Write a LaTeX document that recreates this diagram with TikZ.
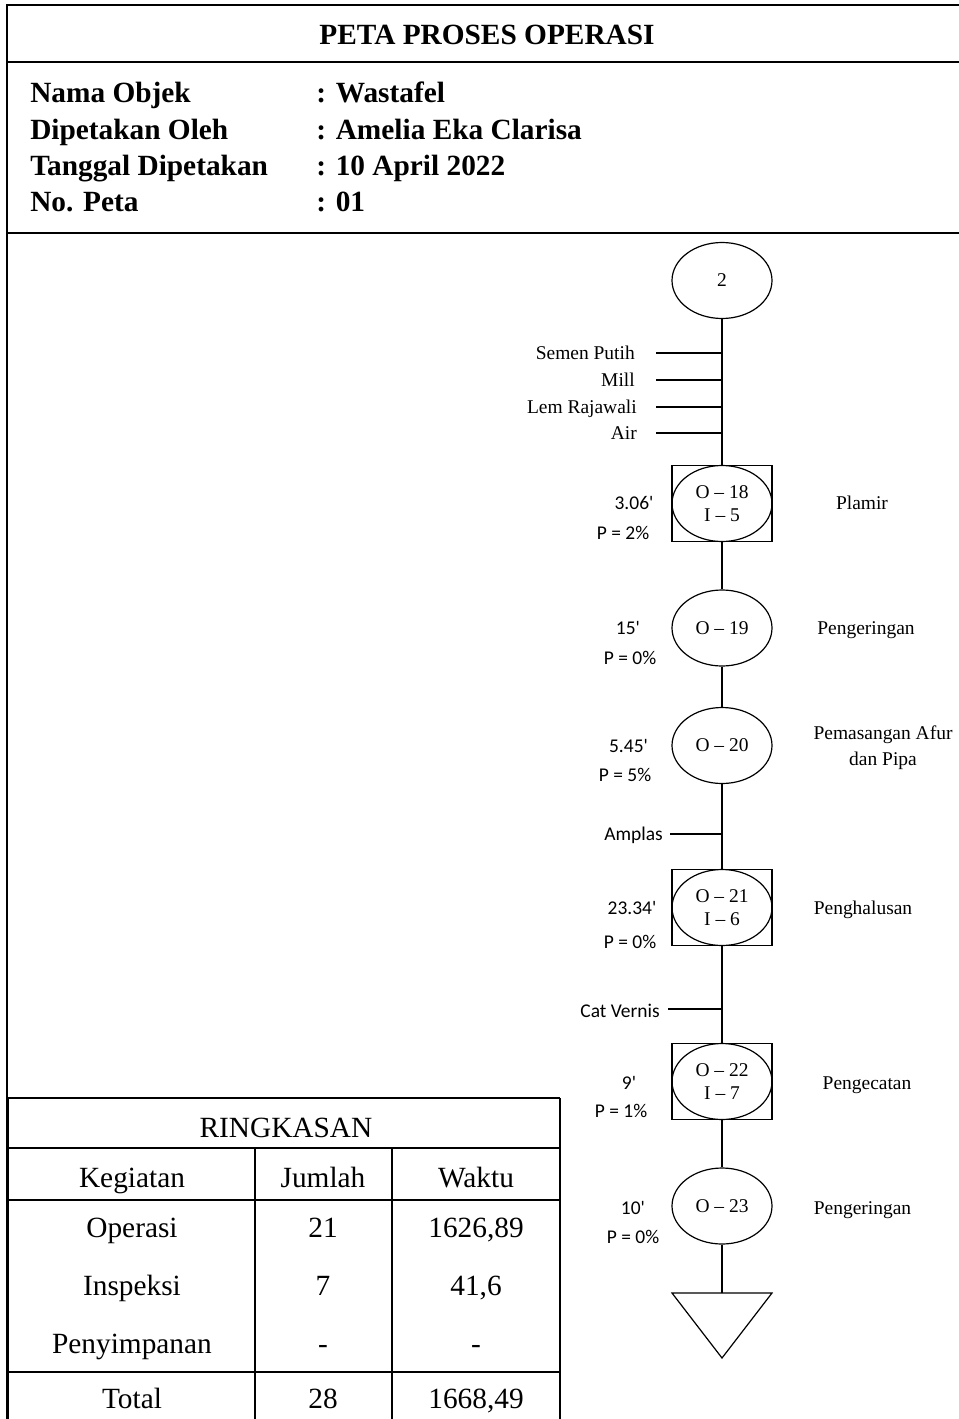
\documentclass[tikz,border=0pt]{standalone}
\usepackage{fontspec}
\setmainfont{Liberation Serif}
\newfontfamily\calibfont[Ligatures=TeXOff]{Carlito}
\usetikzlibrary{shapes.geometric}

\newcommand{\chartfont}{\fontsize{14.6}{17.5}\selectfont}
\newcommand{\numfont}{\calibfont\fontsize{14.6}{17.5}\selectfont}
\newcommand{\hdrfont}{\bfseries\fontsize{22}{26}\selectfont}
\newcommand{\cellfont}{\fontsize{22}{26}\selectfont}

\begin{document}
\begin{tikzpicture}[x=0.75pt,y=-0.75pt,
  frame/.style={line width=2pt},
  tab/.style={line width=1.6pt},
  flow/.style={line width=0.9pt},
  opel/.style={draw,ellipse,line width=0.9pt,minimum width=75pt,minimum height=57pt,
               inner sep=0pt,align=center,font=\chartfont},
  opbox/.style={draw,rectangle,line width=0.9pt,minimum width=75pt,minimum height=57.5pt,inner sep=0pt},
  lbl/.style={font=\chartfont,inner sep=0pt,anchor=base},
  num/.style={font=\numfont,inner sep=0pt,anchor=base},
  hd/.style={font=\hdrfont,anchor=base west,inner sep=0pt},
  cell/.style={font=\cellfont,inner sep=0pt,anchor=base}]

\fill[white] (0,0) rectangle (959,1419);
\useasboundingbox (0,0) rectangle (959,1419);

% ---- header frame ----
\draw[frame] (7,1421) -- (7,5) -- (961,5);
\draw[frame] (7,62) -- (961,62);
\draw[frame] (7,233) -- (961,233);

\node[font=\hdrfont,anchor=base,inner sep=0pt] (title) at (487,45) {PETA PROSES OPERASI};

\node[hd] (k1) at (30,103) {Nama Objek};
\node[hd] (k2) at (30,140) {Dipetakan Oleh};
\node[hd] (k3) at (30,176) {Tanggal Dipetakan};
\node[hd] (k4) at (30,212) {No. Peta};
\node[hd] (v1) at (316,103) {: Wastafel};
\node[hd] (v2) at (316,140) {: Amelia Eka Clarisa};
\node[hd] (v3) at (316,176) {: 10 April 2022};
\node[hd] (v4) at (316,212) {: 01};

% ---- process chart ----
\node[opel] (n2) at (722,280.5) {2};

% materials entering before O-18
\node[lbl,anchor=base east] (mat1) at (635,359) {Semen Putih};
\node[lbl,anchor=base east] (mat2) at (635,386) {Mill};
\node[lbl,anchor=base east] (mat3) at (637,413) {Lem Rajawali};
\node[lbl,anchor=base east] (mat4) at (637,439) {Air};
\coordinate (j1) at (656,353);
\coordinate (j2) at (656,380);
\coordinate (j3) at (656,407);
\coordinate (j4) at (656,433);

\node[opbox] (b18) at (722,503.5) {};
\node[opel] (o18) at (722,503.5) {O -- 18\\I -- 5};
\node[num] (t18) at (634,509.5) {3.06'};
\node[num] (p18) at (623,539.5) {P = 2\%};
\node[lbl] (d18) at (862,509.5) {Plamir};

\node[opel] (o19) at (722,628) {O -- 19};
\node[num] (t19) at (628,634.5) {15'};
\node[num] (p19) at (630,664.5) {P = 0\%};
\node[lbl] (d19) at (866,634.5) {Pengeringan};

\node[opel] (o20) at (722,745.5) {O -- 20};
\node[num] (t20) at (628.5,752) {5.45'};
\node[num] (p20) at (625,781.5) {P = 5\%};
\node[lbl] (d20a) at (883,739.5) {Pemasangan Afur};
\node[lbl] (d20b) at (883,765) {dan Pipa};

\node[num,anchor=base east] (mat5) at (663,840.5) {Amplas};
\coordinate (j5) at (670,834);

\node[opbox] (b21) at (722,907.5) {};
\node[opel] (o21) at (722,907.5) {O -- 21\\I -- 6};
\node[num] (t21) at (632,914.5) {23.34'};
\node[num] (p21) at (630,948.5) {P = 0\%};
\node[lbl] (d21) at (863,914.5) {Penghalusan};

\node[num,anchor=base east] (mat6) at (660,1017) {Cat Vernis};
\coordinate (j6) at (668,1009);

\node[opbox] (b22) at (722,1081.5) {};
\node[opel] (o22) at (722,1081.5) {O -- 22\\I -- 7};
\node[num] (t22) at (629,1089.5) {9'};
\node[num] (p22) at (621,1117.5) {P = 1\%};
\node[lbl] (d22) at (867,1089.5) {Pengecatan};

\node[opel] (o23) at (722,1206) {O -- 23};
\node[num] (t23) at (633,1214) {10'};
\node[num] (p23) at (633,1243.5) {P = 0\%};
\node[lbl] (d23) at (862.5,1214) {Pengeringan};

% storage triangle
\coordinate (tl) at (672,1293);
\coordinate (tt) at (722,1293);
\coordinate (tr) at (772,1293);
\coordinate (tb) at (722,1358);
\draw[flow] (tl) -- (tr) -- (tb) -- cycle;

% flow line
\draw[flow] (n2) -- (b18);
\draw[flow] (b18) -- (o19);
\draw[flow] (o19) -- (o20);
\draw[flow] (o20) -- (b21);
\draw[flow] (b21) -- (b22);
\draw[flow] (b22) -- (o23);
\draw[flow] (o23) -- (tt);
\foreach \j in {j1,j2,j3,j4,j5,j6} \draw[flow] (\j) -- (\j -| n2);

% ---- summary table ----
\draw[tab] (8,1098) -- (560,1098);
\draw[tab] (8,1148) -- (560,1148);
\draw[tab] (8,1200) -- (560,1200);
\draw[tab] (8,1372) -- (560,1372);
\draw[tab] (8,1098) -- (8,1421);
\draw[tab] (560,1098) -- (560,1421);
\draw[tab] (255,1148) -- (255,1421);
\draw[tab] (392,1148) -- (392,1421);

\node[cell] (r0) at (286,1137) {RINGKASAN};
\node[cell] (h1) at (132,1187) {Kegiatan};
\node[cell] (h2) at (323,1187) {Jumlah};
\node[cell] (h3) at (476,1187) {Waktu};
\node[cell] (a1) at (132,1237) {Operasi};
\node[cell] (a2) at (323,1237) {21};
\node[cell] (a3) at (476,1237) {1626,89};
\node[cell] (b1) at (132,1295) {Inspeksi};
\node[cell] (b2) at (323,1295) {7};
\node[cell] (b3) at (476,1295) {41,6};
\node[cell] (c1) at (132,1353) {Penyimpanan};
\node[cell] (c2) at (323,1353) {-};
\node[cell] (c3) at (476,1353) {-};
\node[cell] (e1) at (132,1408) {Total};
\node[cell] (e2) at (323,1408) {28};
\node[cell] (e3) at (476,1408) {1668,49};
\end{tikzpicture}
\end{document}
